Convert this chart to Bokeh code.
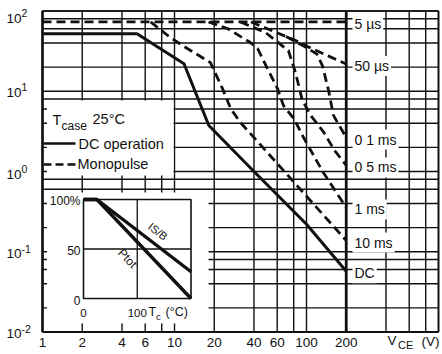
import numpy as np
from bokeh.plotting import figure
from bokeh.models import Range1d, LinearScale, Label
from bokeh.core.properties import value
from bokeh.embed import file_html
from bokeh.resources import INLINE

# ---------------- data ----------------
grid_v = [1, 2, 4, 6, 8, 10, 20, 40, 60, 80, 100, 200, 400, 600, 800, 1000]
grid_i = [0.01, 0.02, 0.04, 0.06, 0.08, 0.1, 0.2, 0.4, 0.6, 0.8, 1, 2, 4, 6, 8,
          10, 20, 40, 60, 80, 100]
x_tick_values = [1, 2, 4, 6, 10, 20, 40, 60, 100, 200]
x_tick_labels = ["1", "2", "4", "6", "10", "20", "40", "60", "100", "200"]
y_tick_values = [0.01, 0.1, 1, 10, 100]
y_tick_exponents = ["-2", "-1", "0", "1", "2"]

vce_max = 200  # V, voltage limit line

dc_v = [1, 5.2, 11.8, 18.2, 40, 100, 200]
dc_i = [52, 52, 22, 3.74, 1.0, 0.22, 0.057]

p5us_v = [1, 200]
p5us_i = [73, 73]
p50us_v = [38, 56, 80, 110, 150, 200]
p50us_i = [73, 56, 44, 34, 27, 21.8]
p01ms_v = [70, 100, 120, 132, 147, 160, 200]
p01ms_i = [48, 35, 29, 20.9, 10.2, 5.0, 2.65]
p05ms_v = [31.6, 48.9, 73, 82.5, 93, 109, 134, 163, 200]
p05ms_i = [73, 54, 32, 17.1, 7.7, 4.85, 3.15, 1.83, 1.19]
p1ms_v = [18.1, 25.2, 37.6, 42.6, 50.6, 60.3, 67, 80, 95, 134, 200]
p1ms_i = [73, 60.5, 40.5, 34.1, 19.2, 10.8, 6.6, 4.6, 2.65, 0.97, 0.356]
p10ms_v = [6.6, 9.3, 12.5, 18.7, 23.1, 26.6, 31.6, 200]
p10ms_i = [73, 46.7, 34.1, 22.8, 10.8, 6.1, 4.08, 0.138]

curve_labels = ["5 µs", "50 µs", "0 1 ms", "0 5 ms", "1 ms", "10 ms", "DC"]

# inset: derating vs case temperature
tc_ptot = [0, 25, 200]
pct_ptot = [100, 100, 0]
tc_isb = [0, 25, 200]
pct_isb = [100, 100, 27]
inset_y_ticks = [0, 50, 100]
inset_y_labels = ["0", "50", "100%"]
inset_x_ticks = [0, 100]
inset_x_labels = ["0", "100"]

# ---------------- layout helpers (positions in canvas pixels) ----------------
FONT = value("Liberation Sans")
INK = "#111111"
W, H = 440, 350


def X(px):
    return 10 ** ((px - 42) / 132)


def Y(py):
    return 10 ** (2 - (py - 10.5) / 80.25)


def PY(v):
    return 10.5 + 80.25 * (2 - np.log10(v))


def T(px):
    return (px - 83) / 0.5375


def P(py):
    return (298 - py) / 0.99


def PP(v):
    return 298 - 0.99 * v


p = figure(width=W, height=H, x_axis_type="log", y_axis_type="log",
           x_axis_location=None, y_axis_location=None,
           x_range=Range1d(X(0), X(W)), y_range=Range1d(Y(H), Y(0)),
           output_backend="svg", toolbar_location=None, min_border=0)
p.grid.visible = False
p.outline_line_color = None
p.background_fill_color = "white"
p.border_fill_color = "white"
p.extra_x_ranges = {"tc": Range1d(T(0), T(W))}
p.extra_y_ranges = {"pct": Range1d(P(H), P(0))}
p.extra_x_scales = {"tc": LinearScale()}
p.extra_y_scales = {"pct": LinearScale()}


def txt(x, y, s, size, align="left", baseline="middle", angle=0.0, **kw):
    p.text(x=[x], y=[y], text=[s], text_font=FONT, text_font_size=f"{size}px",
           text_align=align, text_baseline=baseline, angle=angle,
           text_color=INK, **kw)


# grid
nx, ny = len(grid_v), len(grid_i)
p.segment(x0=grid_v, x1=grid_v, y0=[grid_i[0]] * nx, y1=[grid_i[-1]] * nx,
          line_color=INK, line_width=1.4)
p.segment(x0=[grid_v[0]] * ny, x1=[grid_v[-1]] * ny, y0=grid_i, y1=grid_i,
          line_color=INK, line_width=1.4)

# white panels for legend and inset
p.quad(left=[X(46.5), X(46.5)], right=[X(173), X(208)],
       top=[Y(100), Y(192)], bottom=[Y(175), Y(323)],
       fill_color="white", line_color=None)

# frame
p.segment(x0=[grid_v[0]], x1=[grid_v[0]], y0=[grid_i[0]], y1=[grid_i[-1]],
          line_color=INK, line_width=2.6)
p.segment(x0=[grid_v[0]], x1=[grid_v[-1]], y0=[grid_i[0]], y1=[grid_i[0]],
          line_color=INK, line_width=2.2)
p.segment(x0=[grid_v[0], grid_v[-1]], x1=[grid_v[-1], grid_v[-1]],
          y0=[grid_i[-1], grid_i[0]], y1=[grid_i[-1], grid_i[-1]],
          line_color=INK, line_width=1.7)

# voltage limit
p.segment(x0=[vce_max], x1=[vce_max], y0=[grid_i[0]], y1=[grid_i[-1]],
          line_color=INK, line_width=2.8)

# SOA curves
pulses = [(p5us_v, p5us_i), (p50us_v, p50us_i), (p01ms_v, p01ms_i),
          (p05ms_v, p05ms_i), (p1ms_v, p1ms_i), (p10ms_v, p10ms_i)]
for vv, ii in pulses:
    p.line(vv, ii, line_color=INK, line_width=2.8, line_dash="9 5")
p.line(dc_v, dc_i, line_color=INK, line_width=3.0)

# legend
txt(X(52), Y(119), "T", 14.5)
txt(X(61), Y(125), "case", 12)
txt(X(92), Y(118), "25°C", 14.5)
p.line([X(43), X(75)], [Y(143), Y(143)], line_color=INK, line_width=2.5)
txt(X(78), Y(143), "DC operation", 14.5)
p.line([X(43), X(75)], [Y(164), Y(164)], line_color=INK, line_width=2.5,
       line_dash="8 4")
txt(X(77), Y(163), "Monopulse", 14.5)

# inset
R = dict(x_range_name="tc", y_range_name="pct")
p.quad(left=[tc_ptot[0]], right=[tc_ptot[-1]], bottom=[inset_y_ticks[0]],
       top=[inset_y_ticks[-1]], fill_color=None, line_color=INK,
       line_width=1.6, **R)
p.segment(x0=[inset_x_ticks[1]], x1=[inset_x_ticks[1]], y0=[inset_y_ticks[0]],
          y1=[inset_y_ticks[-1]], line_color=INK, line_width=1.3, **R)
p.segment(x0=[tc_ptot[0]], x1=[tc_ptot[-1]], y0=[inset_y_ticks[1]],
          y1=[inset_y_ticks[1]], line_color=INK, line_width=1.3, **R)
p.line(tc_ptot, pct_ptot, line_color=INK, line_width=3.4, **R)
p.line(tc_isb, pct_isb, line_color=INK, line_width=3.4, **R)
for v, s in zip(inset_y_ticks, inset_y_labels):
    txt(T(80), P(PP(v) + 1.5), s, 12, align="right", **R)
for v, s in zip(inset_x_ticks, inset_x_labels):
    txt(v, P(312), s, 11.5, align="center", **R)
txt(T(148), P(311.5), "T", 12.5, **R)
txt(T(155.5), P(316), "c", 9.5, **R)
txt(T(165), P(311.5), "(°C)", 12.5, **R)
txt(T(127), P(258), "Ptot", 12, align="center", angle=-0.81, **R)
txt(T(157.5), P(231), "IS/B", 11, align="center", angle=-0.655, **R)

# y tick labels
y_dy = [1.5, 2, 2.5, 1, 7]
for v, e, dy in zip(y_tick_values, y_tick_exponents, y_dy):
    txt(X(21), Y(PY(v) + dy), "10", 13.5, align="right")
    txt(X(21), Y(PY(v) + dy - 5), e, 10.5, align="left")

# x tick labels
for v, s in zip(x_tick_values, x_tick_labels):
    txt(v, Y(342), s, 13.5, align="center")
txt(X(387), Y(340), "V", 13.5)
txt(X(397.5), Y(344.5), "CE", 11)
txt(X(421), Y(340.5), "(V)", 13.5)

# curve labels at the voltage limit
curve_ends = [p5us_i[-1], p50us_i[-1], p01ms_i[-1], p05ms_i[-1], p1ms_i[-1],
              p10ms_i[-1], dc_i[-1]]
for s, end in zip(curve_labels, curve_ends):
    p.add_layout(Label(x=X(352), y=Y(PY(end) + 2), text=s,
                       text_font="Liberation Sans", text_font_size="14px",
                       text_align="left", text_baseline="middle",
                       text_color=INK, background_fill_color="white",
                       padding=2))

open("out.html", "w").write(file_html(p, INLINE))
